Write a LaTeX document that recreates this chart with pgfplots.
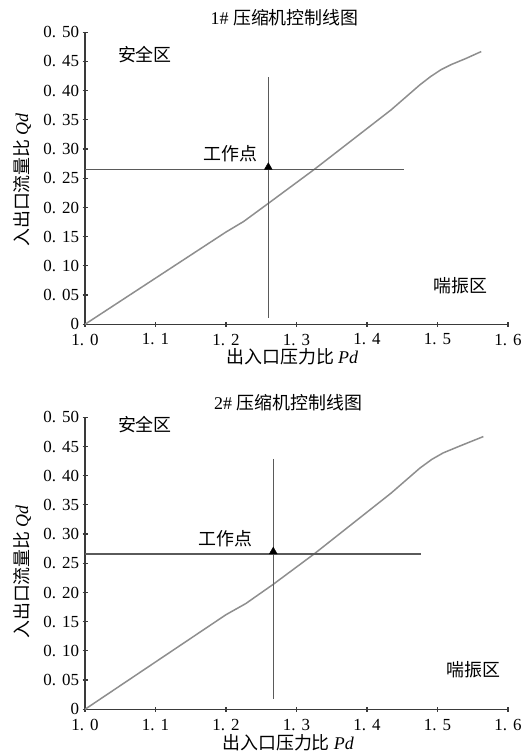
\documentclass[border=0pt]{standalone}
\usepackage{pgfplots}
\pgfplotsset{compat=1.18}
\usepackage{pgfplotstable}
\usepackage{fontspec}
\setmainfont{Liberation Serif}
\newfontfamily\cjk{Noto Sans CJK SC}
\newcommand{\tl}[2]{#1.\kern6bp#2}
\definecolor{curvegray}{HTML}{8E8E8E}
\definecolor{linegray}{HTML}{5A5A5A}
\definecolor{axisgray}{HTML}{3A3A3A}
\tikzset{lab/.style={font=\fontsize{18}{20}\selectfont}}

\pgfplotstableread{
x y
1.000 0.000
1.100 0.079
1.200 0.158
1.225 0.176
1.260 0.207
1.325 0.265
1.434 0.367
1.475 0.410
1.490 0.424
1.505 0.436
1.520 0.445
1.540 0.455
1.562 0.467
}\curveA

\pgfplotstableread{
x y
1.000 0.000
1.100 0.081
1.200 0.162
1.228 0.181
1.267 0.214
1.325 0.266
1.434 0.370
1.475 0.413
1.492 0.428
1.508 0.439
1.530 0.450
1.565 0.467
}\curveB

\pgfplotsset{
  compstyle/.style={
    scale only axis, width=423bp, height=292bp,
    xmin=1, xmax=1.6, ymin=0, ymax=0.5,
    axis lines=left,
    axis line style={-, line width=1.2bp, color=axisgray},
    tick style={line width=1.2bp, color=axisgray},
    major tick length=5bp,
    xtick={1.0,1.1,1.2,1.3,1.4,1.5,1.6},
    xticklabels={\tl10,\tl11,\tl12,\tl13,\tl14,\tl15,\tl16},
    ytick={0,0.05,0.10,0.15,0.20,0.25,0.30,0.35,0.40,0.45,0.50},
    yticklabels={0,\tl0{05},\tl0{10},\tl0{15},\tl0{20},\tl0{25},\tl0{30},\tl0{35},\tl0{40},\tl0{45},\tl0{50}},
    ticklabel style={font=\fontsize{17}{17}\selectfont},
    xticklabel style={yshift=-3.5bp},
    clip=false,
  },
}

\begin{document}
\begin{tikzpicture}[x=1bp,y=1bp]
\useasboundingbox (0,0) rectangle (524,754);

% ---- top axis ----
\begin{axis}[compstyle, at={(85bp,429.7bp)}, anchor=south west]
\addplot[curvegray, line width=1.5bp] table[x=x,y=y] {\curveA};
\addplot[linegray, line width=1.3bp] coordinates {(1.0,0.265) (1.452,0.265)};
\addplot[linegray, line width=1.3bp] coordinates {(1.26,0.423) (1.26,0.011)};
\addplot[only marks, mark=triangle*, mark size=4.5bp, black] coordinates {(1.26,0.269)};
\node[lab] at (rel axis cs:0.472,1) [yshift=15bp] {1\# \cjk 压缩机控制线图};
\node[lab] at (rel axis cs:0.49,0) [yshift=-32bp] {\cjk 出入口压力比 \rmfamily\itshape Pd};
\node[lab, rotate=90] at (axis cs:0.9106,0.247) {\cjk 入出口流量比 \rmfamily\itshape Qd};
\node[lab] at (axis cs:1.085,0.462) {\cjk 安全区};
\node[lab] at (axis cs:1.206,0.293) {\cjk 工作点};
\node[lab] at (axis cs:1.532,0.066) {\cjk 喘振区};
\end{axis}

% ---- bottom axis ----
\begin{axis}[compstyle, at={(85bp,44.7bp)}, anchor=south west]
\addplot[curvegray, line width=1.5bp] table[x=x,y=y] {\curveB};
\addplot[linegray, line width=1.3bp] coordinates {(1.0,0.266) (1.477,0.266)};
\addplot[linegray, line width=1.3bp] coordinates {(1.267,0.429) (1.267,0.017)};
\addplot[only marks, mark=triangle*, mark size=4.5bp, black] coordinates {(1.267,0.270)};
\node[lab] at (rel axis cs:0.48,1) [yshift=15bp] {2\# \cjk 压缩机控制线图};
\node[lab] at (rel axis cs:0.48,0) [yshift=-33bp] {\cjk 出入口压力比 \rmfamily\itshape Pd};
\node[lab, rotate=90] at (axis cs:0.9106,0.235) {\cjk 入出口流量比 \rmfamily\itshape Qd};
\node[lab] at (axis cs:1.085,0.487) {\cjk 安全区};
\node[lab] at (axis cs:1.199,0.292) {\cjk 工作点};
\node[lab] at (axis cs:1.551,0.067) {\cjk 喘振区};
\end{axis}
\end{tikzpicture}
\end{document}
